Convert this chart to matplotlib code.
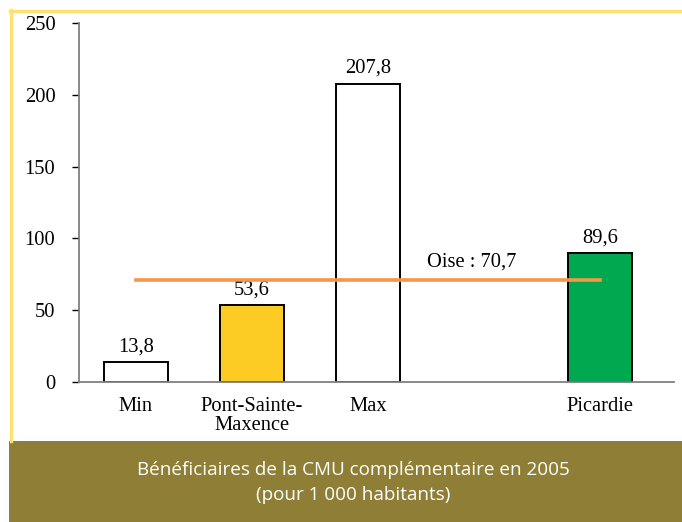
import matplotlib.pyplot as plt
from matplotlib.patches import Rectangle
from matplotlib.lines import Line2D

# data
categories = ["Min", "Pont-Sainte-\nMaxence", "Max", "", "Picardie"]
values = [13.8, 53.6, 207.8, None, 89.6]
bar_colors = ["white", "#FCCB24", "white", None, "#00A84F"]
oise_value = 70.7
oise_label = "Oise : 70,7"
y_ticks = [0, 50, 100, 150, 200, 250]
title_lines = ["Bénéficiaires de la CMU complémentaire en 2005", "(pour 1 000 habitants)"]

serif = "Liberation Serif"
fs = 14.8

fig = plt.figure(figsize=(6.82, 5.22), dpi=100)
fig.patch.set_facecolor("white")

# yellow frame (top + left) and olive banner
W, H = 682, 522
fig.add_artist(Line2D([10 / W, 1.0], [1 - 11 / H, 1 - 11 / H], color="#FFE070", lw=2.4,
                      transform=fig.transFigure))
fig.add_artist(Line2D([11 / W, 11 / W], [1 - 10 / H, 1 - 441 / H], color="#FFE070", lw=2.4,
                      transform=fig.transFigure))
fig.add_artist(Rectangle((9 / W, 0), 1 - 9 / W, 81 / H, transform=fig.transFigure,
                         facecolor="#8F7E36", edgecolor="none"))
fig.text(353 / W, 1 - 470 / H, title_lines[0], color="white", fontsize=13.6,
         family="Open Sans", ha="center", va="center")
fig.text(353 / W, 1 - 495 / H, title_lines[1], color="white", fontsize=13.6,
         family="Open Sans", ha="center", va="center")

ax = fig.add_axes([79 / W, 1 - 382 / H, (674 - 79) / W, (382 - 23) / H])
ax.set_facecolor("none")

xs = list(range(len(categories)))
for x, v, c in zip(xs, values, bar_colors):
    if v is None:
        continue
    ax.bar(x, v, width=0.55, color=c, edgecolor="black", linewidth=1.4, zorder=2)
    ax.annotate(f"{v:.1f}".replace(".", ","), (x, v), xytext=(0, 4), textcoords="offset points",
                ha="center", va="bottom", fontsize=fs, family=serif)

ax.plot([0, 4], [oise_value, oise_value], color="#F79646", lw=2.6, zorder=3)
ax.text(2.9, 77, oise_label, ha="center", va="bottom", fontsize=fs, family=serif)

ax.set_xlim(-0.49, 4.64)
ax.set_ylim(0, 250)
ax.set_yticks(y_ticks)
ax.set_yticklabels([str(t) for t in y_ticks], family=serif, fontsize=fs)
ax.set_xticks(xs)
ax.set_xticklabels(categories, family=serif, fontsize=fs, linespacing=1.0, va="top")

for side in ("top", "right"):
    ax.spines[side].set_visible(False)
for side in ("left", "bottom"):
    ax.spines[side].set_color("#808080")
    ax.spines[side].set_linewidth(1.3)

ax.tick_params(axis="y", length=5, width=1, color="black", pad=12)
ax.tick_params(axis="x", length=0, pad=11)

fig.savefig("out.png", dpi=100)
